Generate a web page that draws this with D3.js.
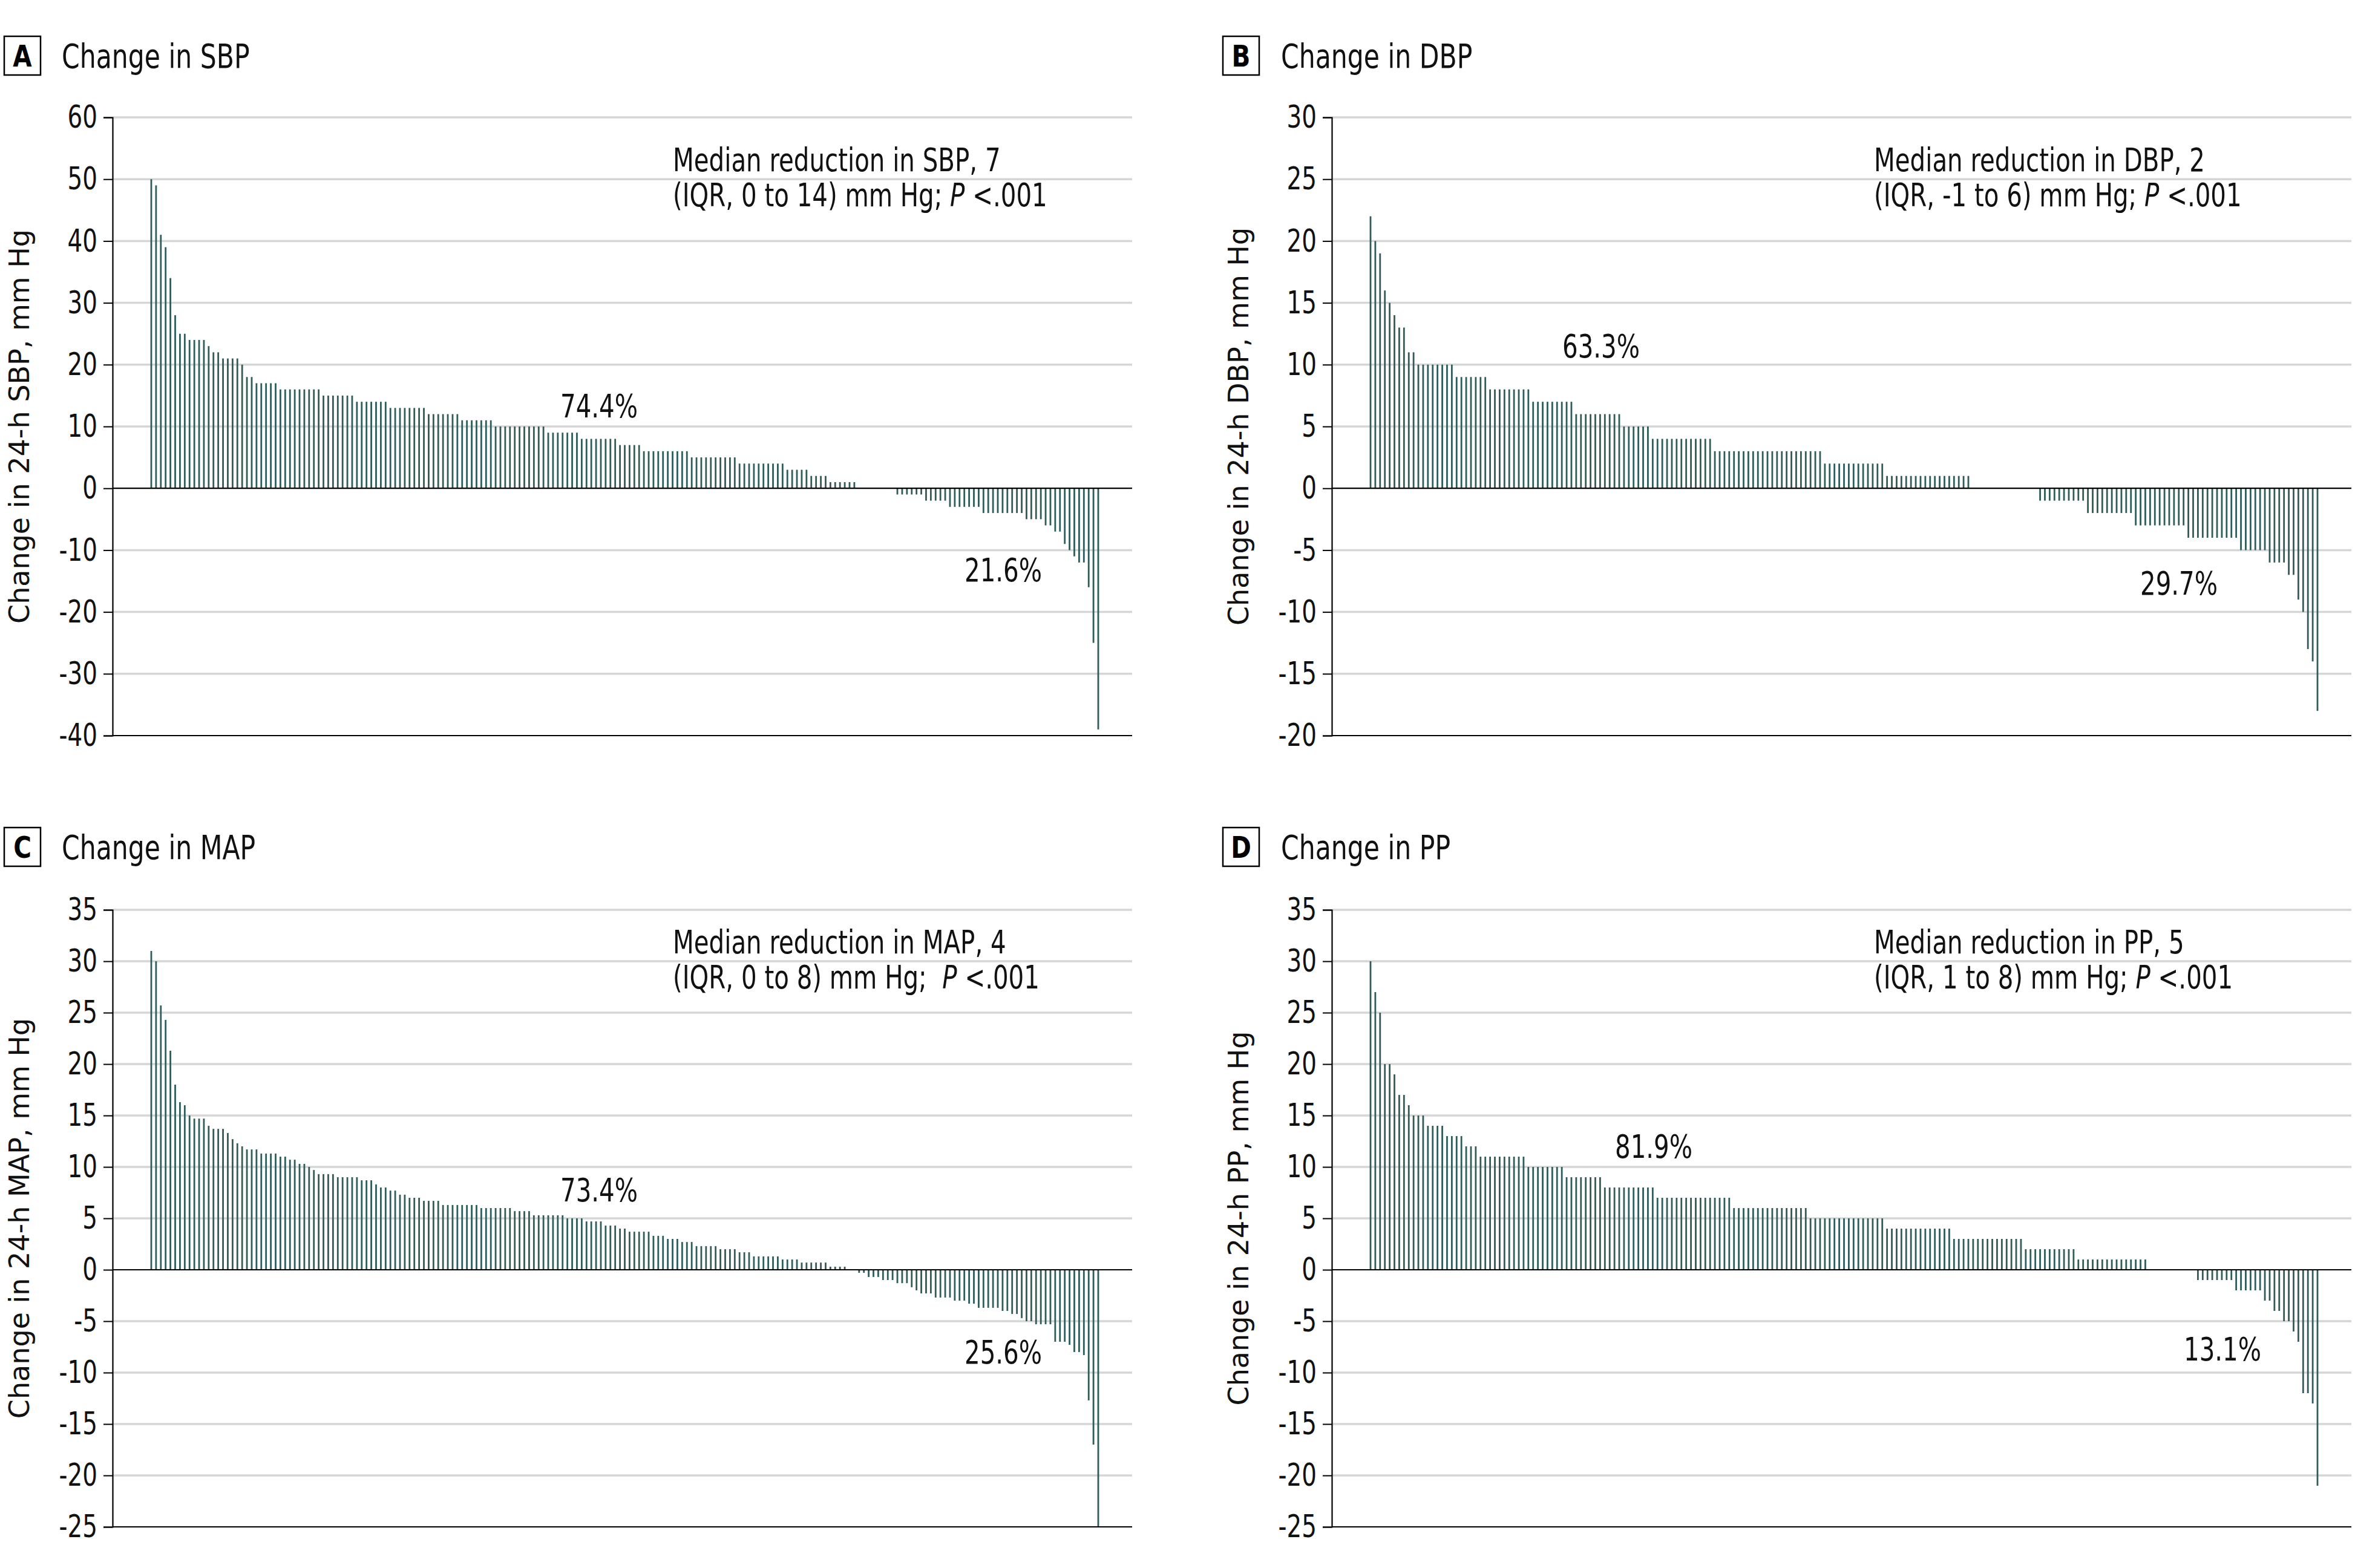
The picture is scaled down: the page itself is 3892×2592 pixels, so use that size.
<!DOCTYPE html>
<html><head><meta charset="utf-8">
<script src="https://cdn.jsdelivr.net/npm/d3@7"></script>
<style>body{margin:0;background:#fff}svg{display:block}</style>
</head><body>
<svg id="chart" width="3892" height="2592"></svg>
<script>
// ---------------- DATA ----------------
const panelLetters = ["A", "B", "C", "D"];
const panelTitles = ["Change in SBP", "Change in DBP", "Change in MAP", "Change in PP"];
const yAxisTitles = ["Change in 24-h SBP, mm Hg", "Change in 24-h DBP, mm Hg",
                     "Change in 24-h MAP, mm Hg", "Change in 24-h PP, mm Hg"];

const sbpTicks = [60, 50, 40, 30, 20, 10, 0, -10, -20, -30, -40];
const dbpTicks = [30, 25, 20, 15, 10, 5, 0, -5, -10, -15, -20];
const mapTicks = [35, 30, 25, 20, 15, 10, 5, 0, -5, -10, -15, -20, -25];
const ppTicks  = [35, 30, 25, 20, 15, 10, 5, 0, -5, -10, -15, -20, -25];

const sbpChange = [
 50,49,41,39,34,28,25,25,24,24,24,24,23,22,22,21,21,21,21,20,18,18,
 17,17,17,17,17,
 16,16,16,16,16,16,16,16,16,
 15,15,15,15,15,15,15,
 14,14,14,14,14,14,14,
 13,13,13,13,13,13,13,13,
 12,12,12,12,12,12,12,
 11,11,11,11,11,11,11,
 10,10,10,10,10,10,10,10,10,10,10,
 9,9,9,9,9,9,9,
 8,8,8,8,8,8,8,8,
 7,7,7,7,7,
 6,6,6,6,6,6,6,6,6,6,
 5,5,5,5,5,5,5,5,5,5,
 4,4,4,4,4,4,4,4,4,4,
 3,3,3,3,3,
 2,2,2,2,
 1,1,1,1,1,1,
 0,0,0,0,0,0,0,0,
 -1,-1,-1,-1,-1,-1,
 -2,-2,-2,-2,-2,
 -3,-3,-3,-3,-3,-3,-3,
 -4,-4,-4,-4,-4,-4,-4,-4,-4,
 -5,-5,-5,-5,
 -6,-6,
 -7,-7,
 -9,-10,-11,-12,-12,-16,-25,-39
];

const dbpChange = [
 22,20,19,16,15,14,13,13,11,11,
 10,10,10,10,10,10,10,10,
 9,9,9,9,9,9,9,
 8,8,8,8,8,8,8,8,8,
 7,7,7,7,7,7,7,7,7,
 6,6,6,6,6,6,6,6,6,6,
 5,5,5,5,5,5,
 4,4,4,4,4,4,4,4,4,4,4,4,4,
 3,3,3,3,3,3,3,3,3,3,3,3,3,3,3,3,3,3,3,3,3,3,3,
 2,2,2,2,2,2,2,2,2,2,2,2,2,
 1,1,1,1,1,1,1,1,1,1,1,1,1,1,1,1,1,1,
 0,0,0,0,0,0,0,0,0,0,0,0,0,0,
 -1,-1,-1,-1,-1,-1,-1,-1,-1,-1,
 -2,-2,-2,-2,-2,-2,-2,-2,-2,-2,
 -3,-3,-3,-3,-3,-3,-3,-3,-3,-3,-3,
 -4,-4,-4,-4,-4,-4,-4,-4,-4,-4,-4,
 -5,-5,-5,-5,-5,-5,
 -6,-6,-6,-6,
 -7,-7,
 -9,-10,-13,-14,-18
];

const mapChange = [
 31,30,25.7,24.3,21.3,18,16.3,16,15,14.7,14.7,14.7,14,13.7,13.7,13.7,13.3,12.7,12.3,12,
 11.7,11.7,11.7,11.3,11.3,11.3,11.3,11,11,10.7,10.7,10.3,10.3,10,9.7,
 9.3,9.3,9.3,9.3,9,9,9,9,9,8.7,8.7,8.7,8.3,8,8,7.7,7.7,7.3,7.3,
 7,7,7,6.7,6.7,6.7,6.7,
 6.3,6.3,6.3,6.3,6.3,6.3,6.3,6.3,
 6,6,6,6,6,6,6,
 5.7,5.7,5.7,5.7,
 5.3,5.3,5.3,5.3,5.3,5.3,5.3,
 5,5,5,5,
 4.7,4.7,4.7,4.7,
 4.3,4.3,4.3,
 4,4,
 3.7,3.7,3.7,3.7,3.7,
 3.3,3.3,3.3,
 3,3,3,
 2.7,2.7,2.7,
 2.3,2.3,2.3,2.3,2.3,
 2,2,2,2,
 1.7,1.7,1.7,
 1.3,1.3,1.3,1.3,1.3,1.3,
 1,1,1,1,
 0.7,0.7,0.7,0.7,0.7,0.7,
 0.3,0.3,0.3,0.3,
 0,0,
 -0.3,-0.3,-0.7,-0.7,-0.7,-1,-1,-1,-1.3,-1.3,-1.3,-1.7,-2,
 -2.3,-2.3,-2.3,-2.7,-2.7,-2.7,-2.7,-3,-3,-3,-3.3,-3.3,
 -3.7,-3.7,-3.7,-3.7,-3.7,-4,-4,-4.3,-4.3,-4.7,-5,-5,
 -5.3,-5.3,-5.3,-5.3,-7,-7,-7,-7.3,-8,-8,-8.3,-12.7,-17,-25
];

const ppChange = [
 30,27,25,20,20,19,17,17,16,15,15,15,14,14,14,14,13,13,13,13,12,12,12,
 11,11,11,11,11,11,11,11,11,11,
 10,10,10,10,10,10,10,10,
 9,9,9,9,9,9,9,9,
 8,8,8,8,8,8,8,8,8,8,8,
 7,7,7,7,7,7,7,7,7,7,7,7,7,7,7,7,
 6,6,6,6,6,6,6,6,6,6,6,6,6,6,6,6,
 5,5,5,5,5,5,5,5,5,5,5,5,5,5,5,5,
 4,4,4,4,4,4,4,4,4,4,4,4,4,4,
 3,3,3,3,3,3,3,3,3,3,3,3,3,3,3,
 2,2,2,2,2,2,2,2,2,2,2,
 1,1,1,1,1,1,1,1,1,1,1,1,1,1,1,
 0,0,0,0,0,0,0,0,0,0,
 -1,-1,-1,-1,-1,-1,-1,-1,
 -2,-2,-2,-2,-2,-2,
 -3,-3,-4,-4,-5,-5,-6,-7,-12,-12,-13,-21
];

const medianTexts = [
  ["Median reduction in SBP, 7", "(IQR, 0 to 14) mm Hg; "],
  ["Median reduction in DBP, 2", "(IQR, -1 to 6) mm Hg; "],
  ["Median reduction in MAP, 4", "(IQR, 0 to 8) mm Hg;  "],
  ["Median reduction in PP, 5",  "(IQR, 1 to 8) mm Hg; "]
];
const pValueText = ["P", " <.001"];
const increaseShare = ["74.4%", "63.3%", "73.4%", "81.9%"];
const decreaseShare = ["21.6%", "29.7%", "25.6%", "13.1%"];

// ---------------- LAYOUT ----------------
const NARROW = "'DejaVu Sans Condensed','Liberation Sans Narrow','DejaVu Sans',sans-serif";
const WIDE = "'DejaVu Sans',Verdana,sans-serif";
const BAR = "#2e5d5c";
const SX = 0.83;   // horizontal condensation of the narrow face

const panels = [
  {values: sbpChange, ticks: sbpTicks, x0: 186,  x1: 1871, yTop: 194,  yBot: 1216,
   boxX: 7, boxY: 60, titleX: 102, titleY: 112, annX: 926, annY: 89,
   pos1: [804, 496], pos2: [1472, 767]},
  {values: dbpChange, ticks: dbpTicks, x0: 2201, x1: 3886, yTop: 194,  yBot: 1216,
   boxX: 2021, boxY: 60, titleX: 2117, titleY: 112, annX: 896, annY: 89,
   pos1: [445, 397], pos2: [1400, 789]},
  {values: mapChange, ticks: mapTicks, x0: 186,  x1: 1871, yTop: 1504, yBot: 2524,
   boxX: 7, boxY: 1368, titleX: 102, titleY: 1420, annX: 926, annY: 72,
   pos1: [804, 482], pos2: [1472, 750]},
  {values: ppChange,  ticks: ppTicks,  x0: 2201, x1: 3886, yTop: 1504, yBot: 2524,
   boxX: 2021, boxY: 1368, titleX: 2117, titleY: 1420, annX: 896, annY: 72,
   pos1: [532, 410], pos2: [1472, 745]}
];

const svg = d3.select("#chart");
svg.append("rect").attr("width", 3892).attr("height", 2592).attr("fill", "#fff");

function narrowText(parent, x, y, size, str, sx = SX) {
  return parent.append("text")
    .attr("transform", `translate(${x},${y}) scale(${sx},1)`)
    .attr("font-family", NARROW).attr("font-size", size).attr("fill", "#111")
    .text(str);
}

panels.forEach((p, k) => {
  const g = svg.append("g");
  const ext = d3.extent(p.ticks);
  const y = d3.scaleLinear().domain(ext).range([p.yBot, p.yTop]);
  const x = d3.scalePoint().domain(d3.range(p.values.length))
              .range([p.x0 + 64, p.x1 - 56]);

  // letter box + title
  g.append("rect").attr("x", p.boxX).attr("y", p.boxY).attr("width", 60).attr("height", 64)
    .attr("fill", "none").attr("stroke", "#000").attr("stroke-width", 2.5);
  narrowText(g, p.boxX + 30, p.boxY + 50, 50, panelLetters[k], 0.9)
    .attr("text-anchor", "middle").attr("font-weight", "bold").attr("fill", "#000");
  narrowText(g, p.titleX, p.titleY, 55, panelTitles[k], 0.86);

  // gridlines
  g.selectAll("line.grid").data(p.ticks.filter(t => t !== ext[0] && t !== 0)).join("line")
    .attr("x1", p.x0).attr("x2", p.x1).attr("y1", d => y(d)).attr("y2", d => y(d))
    .attr("stroke", "#d6d6d6").attr("stroke-width", 3.5);

  // bars
  const bw = 2.8;
  g.selectAll("rect.bar").data(p.values.map((v, i) => ({v, i})).filter(d => d.v !== 0)).join("rect")
    .attr("x", d => x(d.i) - bw / 2).attr("width", bw)
    .attr("y", d => Math.min(y(d.v), y(0)))
    .attr("height", d => Math.abs(y(d.v) - y(0)))
    .attr("fill", BAR);

  // zero line and bottom line
  g.append("line").attr("x1", p.x0).attr("x2", p.x1).attr("y1", y(0)).attr("y2", y(0))
    .attr("stroke", "#000").attr("stroke-width", 2.2);
  g.append("line").attr("x1", p.x0).attr("x2", p.x1).attr("y1", y(ext[0])).attr("y2", y(ext[0]))
    .attr("stroke", "#000").attr("stroke-width", 2.2);

  // y axis
  const axis = d3.axisLeft(y).tickValues(p.ticks).tickSize(15).tickPadding(0)
                 .tickFormat(d => String(d));
  const ag = g.append("g").attr("transform", `translate(${p.x0},0)`).call(axis);
  ag.select(".domain").attr("stroke", "#000").attr("stroke-width", 2.2);
  ag.selectAll(".tick line").attr("stroke", "#000").attr("stroke-width", 2);
  ag.selectAll(".tick text").attr("x", null)
    .attr("transform", `translate(-25,0) scale(${SX},1)`)
    .attr("font-family", NARROW).attr("font-size", 52).attr("fill", "#111");

  // y axis title
  g.append("text")
    .attr("transform", `translate(${p.x0 - 138},${(p.yTop + p.yBot) / 2}) rotate(-90)`)
    .attr("text-anchor", "middle").attr("font-family", WIDE).attr("font-size", 46)
    .attr("fill", "#111").text(yAxisTitles[k]);

  // median annotation
  const ann = narrowText(g, p.x0 + p.annX, p.yTop + p.annY, 54, null).attr("xml:space", "preserve");
  ann.append("tspan").attr("x", 0).attr("y", 0).text(medianTexts[k][0]);
  ann.append("tspan").attr("x", 0).attr("y", 58).text(medianTexts[k][1]);
  ann.append("tspan").attr("font-style", "italic").text(pValueText[0]);
  ann.append("tspan").text(pValueText[1]);

  // percentage labels
  narrowText(g, p.x0 + p.pos1[0], p.yTop + p.pos1[1], 54, increaseShare[k]).attr("text-anchor", "middle");
  narrowText(g, p.x0 + p.pos2[0], p.yTop + p.pos2[1], 54, decreaseShare[k]).attr("text-anchor", "middle");
});
</script>
</body></html>
